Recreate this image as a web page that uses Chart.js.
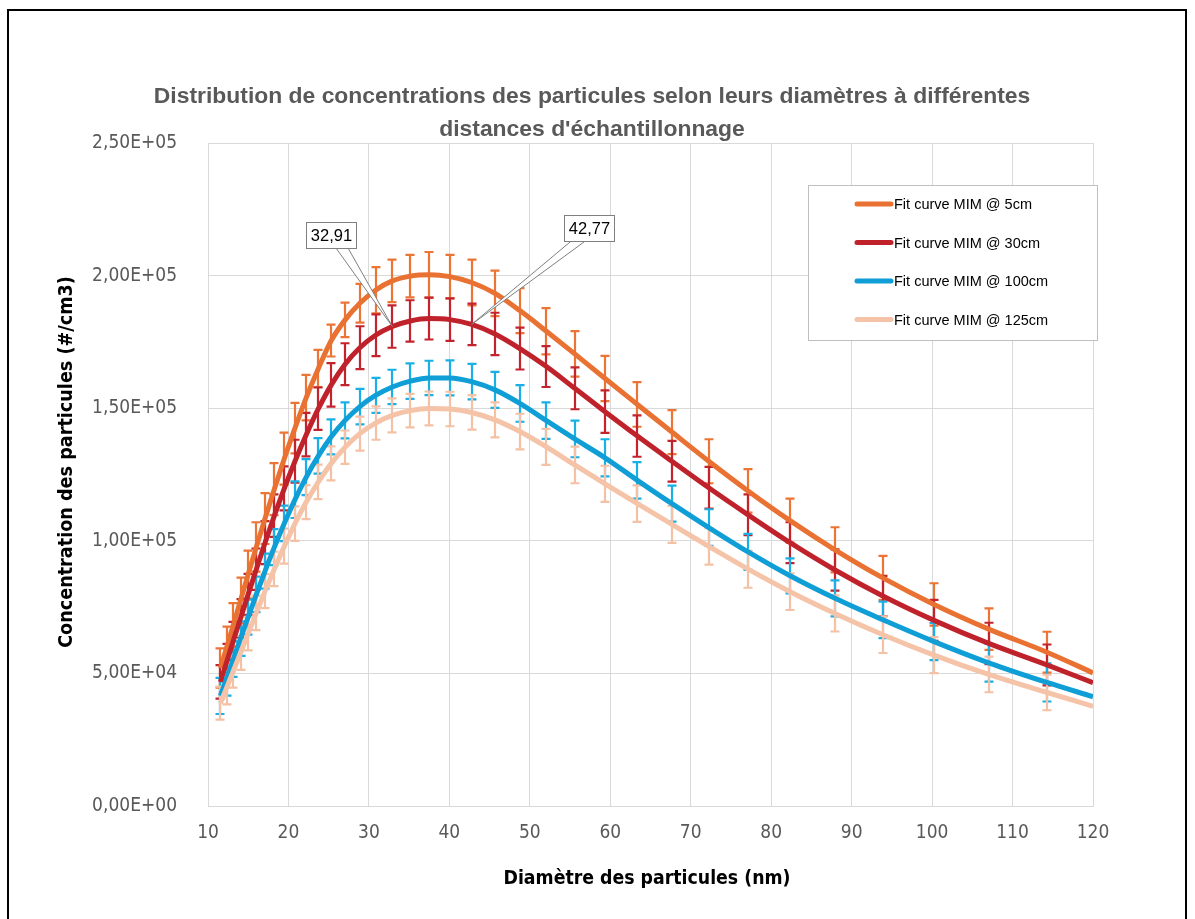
<!DOCTYPE html>
<html>
<head>
<meta charset="utf-8">
<script src="https://cdn.jsdelivr.net/npm/chart.js@4.4.1/dist/chart.umd.min.js"></script>
<style>
  html, body { margin: 0; padding: 0; background: #fff; }
  #myChart { display: block; }
</style>
</head>
<body>
<canvas id="myChart" width="1195" height="919"></canvas>
<script>
// diamètres des canaux (nm), communs aux 4 séries
const diametres = [11.54, 12.32, 13.15, 14.04, 14.99, 16.01, 17.09, 18.25, 19.49, 20.81,
    22.21, 23.72, 25.32, 27.04, 28.87, 30.82, 32.91, 35.14, 37.52, 40.06,
    42.77, 45.67, 48.76, 52.06, 55.58, 59.35, 63.37, 67.66, 72.24, 77.13,
    82.35, 87.93, 93.88, 100.24, 107.03, 114.27]
const diametreFin = 120

// courbes de fit (#/cm3), dernier point = diametreFin
const fit5cm = [52000, 59800, 68300, 77500, 87300, 97700, 108400, 119500, 131000, 142500,
    154000, 165000, 175500, 183300, 189600, 194500, 198000, 199800, 200300, 199600,
    197400, 193300, 186800, 179000, 170500, 161200, 151400, 141000, 130000, 118800,
    107600, 96600, 86000, 76000, 66700, 58000, 50200]
const fit30cm = [46800, 54300, 62300, 70800, 79800, 89300, 99300, 109500, 119800, 130000,
    140000, 149800, 158800, 166600, 172800, 177500, 180800, 182900, 183800, 183400,
    181600, 178000, 172500, 165700, 157500, 148700, 139500, 130000, 120000, 109800,
    99300, 89000, 79200, 70000, 61300, 53200, 46500]
const fit100cm = [41500, 48200, 55400, 63100, 71200, 79800, 88600, 97600, 106600, 115500,
    124000, 132000, 139200, 145400, 150600, 154800, 158000, 160200, 161400, 161400,
    160000, 156900, 151800, 145300, 138400, 131300, 122800, 114000, 105000, 95800,
    86800, 78300, 70200, 62000, 54000, 46600, 41200]
const fit125cm = [38800, 44600, 50900, 57700, 65000, 72800, 81000, 89400, 98000, 106500,
    114600, 122200, 129200, 135300, 140400, 144400, 147300, 149100, 149900, 149700,
    148400, 145600, 141200, 135400, 128600, 121500, 114000, 106200, 97900, 89300,
    80800, 72600, 64600, 56900, 49600, 42800, 37600]

// demi-largeur des barres d'erreur (#/cm3)
const err5cm = [7400, 7800, 8200, 8600, 9000, 9300, 9600, 9800, 9800, 9500,
    8600, 7000, 6000, 6500, 7300, 8700, 8000, 8000, 8600, 8200,
    8600, 8600, 8500, 8700, 8600, 8500, 8400, 8300, 8300, 8200,
    8300, 8500, 8300, 8000, 7800, 7700]
const err30cm = [6300, 6800, 7100, 7200, 7700, 7800, 8100, 8000, 8300, 8100,
    8200, 8000, 8200, 7900, 8100, 7900, 8000, 7800, 7900, 8000,
    7800, 8000, 7900, 7700, 7900, 8000, 7800, 7700, 7900, 7700,
    7700, 7800, 7600, 7700, 7800, 7700]
const err100cm = [6800, 6600, 6700, 6500, 6600, 6700, 6600, 6800, 6700, 6900,
    6800, 6700, 6600, 6800, 6700, 6600, 6500, 6700, 6500, 6600,
    6700, 6800, 6900, 6900, 6900, 7000, 6900, 6800, 6900, 6800,
    6600, 6800, 6900, 7000, 7100, 7200]
const err125cm = [6200, 6300, 6300, 6400, 6300, 6500, 6400, 6500, 6600, 6500,
    6400, 6500, 6400, 6300, 6400, 6300, 6400, 6300, 6400, 6500,
    6500, 6600, 6700, 6800, 6900, 6800, 6900, 7000, 6900, 7000,
    6900, 6800, 6900, 6800, 6700, 6700]

const series = ["Fit curve MIM @ 5cm", "Fit curve MIM @ 30cm", "Fit curve MIM @ 100cm", "Fit curve MIM @ 125cm"]
const colors = ["#E97132", "#C0222B", "#0F9ED5", "#F5C3A7"]
const barColors = ["#EC7434", "#C3232D", "#19B0E6", "#F5C1A4"]

// étiquettes (série 30cm)
const labelDiam = [32.91, 42.77]
const labelText = ["32,91", "42,77"]

const titleLines = ["Distribution de concentrations des particules selon leurs diamètres à différentes",
    "distances d'échantillonnage"]
const xTitle = "Diamètre des particules (nm)"
const yTitle = "Concentration des particules (#/cm3)"

const NARROW = '"Liberation Sans Narrow", "DejaVu Sans Condensed", sans-serif'
const REG = '"Liberation Sans", Arial, sans-serif'

function sci(v) {
    if (v === 0) return "0,00E+00";
    let e = Math.floor(Math.log10(v) + 1e-9);
    let m = v / Math.pow(10, e);
    return m.toFixed(2).replace(".", ",") + "E+" + String(e).padStart(2, "0");
}

function toPoints(vals) {
    return diametres.concat([diametreFin]).map((x, i) => ({ x: x, y: vals[i] }));
}

function fitSize(ctx, text, weight, family, target) {
    ctx.font = weight + " 20px " + family;
    return 20 * target / ctx.measureText(text).width;
}

const fits = [fit5cm, fit30cm, fit100cm, fit125cm]
const errs = [err5cm, err30cm, err100cm, err125cm]

const errorBars = {
    id: "errorBars",
    beforeDatasetsDraw(chart) {
        const { ctx, chartArea: a, scales: { x, y } } = chart;
        ctx.save();
        ctx.beginPath();
        ctx.rect(a.left, a.top, a.right - a.left, a.bottom - a.top);
        ctx.clip();
        ctx.lineWidth = 2.2;
        chart.data.datasets.forEach((ds, i) => {
            ctx.strokeStyle = barColors[i];
            errs[i].forEach((e, j) => {
                const px = Math.round(x.getPixelForValue(diametres[j]));
                const t = y.getPixelForValue(fits[i][j] + e);
                const b = y.getPixelForValue(fits[i][j] - e);
                ctx.beginPath();
                ctx.moveTo(px, t); ctx.lineTo(px, b);
                ctx.moveTo(px - 4.5, t); ctx.lineTo(px + 4.5, t);
                ctx.moveTo(px - 4.5, b); ctx.lineTo(px + 4.5, b);
                ctx.stroke();
            });
        });
        ctx.restore();
    }
};

const decor = {
    id: "decor",
    beforeDraw(chart) {
        const ctx = chart.ctx;
        ctx.save();
        ctx.fillStyle = "#fff";
        ctx.fillRect(0, 0, chart.width, chart.height);
        ctx.strokeStyle = "#000";
        ctx.lineWidth = 2;
        ctx.beginPath();
        ctx.moveTo(8, 930); ctx.lineTo(8, 10); ctx.lineTo(1186, 10); ctx.lineTo(1186, 930);
        ctx.stroke();
        ctx.restore();
    },
    afterDraw(chart) {
        const { ctx, chartArea: a, scales: { x, y } } = chart;
        ctx.save();
        // titre
        ctx.fillStyle = "#595959";
        ctx.textAlign = "center";
        ctx.textBaseline = "middle";
        let ts = fitSize(ctx, titleLines[0], "bold", REG, 875);
        ctx.font = "bold " + ts.toFixed(1) + "px " + REG;
        ctx.fillText(titleLines[0], 592, 97);
        ctx.fillText(titleLines[1], 592, 130);

        // titres des axes
        ctx.fillStyle = "#000";
        let xs = fitSize(ctx, xTitle, "bold", NARROW, 287);
        ctx.font = "bold " + xs.toFixed(1) + "px " + NARROW;
        ctx.fillText(xTitle, 647, 879);
        let ys = fitSize(ctx, yTitle, "bold", NARROW, 371);
        ctx.font = "bold " + ys.toFixed(1) + "px " + NARROW;
        ctx.translate(67, 462);
        ctx.rotate(-Math.PI / 2);
        ctx.fillText(yTitle, 0, 0);
        ctx.setTransform(1, 0, 0, 1, 0, 0);

        // légende
        ctx.fillStyle = "#fff";
        ctx.fillRect(808, 185, 289, 155);
        ctx.strokeStyle = "#BFBFBF";
        ctx.lineWidth = 1;
        ctx.strokeRect(808.5, 185.5, 289, 155);
        ctx.font = "14.5px " + REG;
        ctx.textAlign = "left";
        series.forEach((s, i) => {
            const ly = 204 + i * 38.5;
            ctx.strokeStyle = colors[i];
            ctx.lineWidth = 5;
            ctx.lineCap = "round";
            ctx.beginPath();
            ctx.moveTo(857, ly); ctx.lineTo(891, ly);
            ctx.stroke();
            ctx.fillStyle = "#000";
            ctx.fillText(s, 894, ly + 1);
        });

        // étiquettes de données (série 30cm)
        const boxes = [
            { dx: -86, dy: -105, w: 50, h: 26, b0: -56, b1: -44 },
            { dx: 92, dy: -109, w: 50, h: 26, b0: 99, b1: 113 }
        ];
        labelDiam.forEach((d, k) => {
            const j = diametres.indexOf(d);
            const px = x.getPixelForValue(d);
            const py = y.getPixelForValue(fit30cm[j]);
            const bx = boxes[k];
            const left = Math.round(px + bx.dx) + 0.5, top = Math.round(py + bx.dy) + 0.5;
            ctx.lineCap = "butt";
            ctx.lineWidth = 1;
            ctx.strokeStyle = "#7F7F7F";
            ctx.fillStyle = "#fff";
            ctx.beginPath();
            ctx.moveTo(px + bx.b0, top + bx.h);
            ctx.lineTo(px, py);
            ctx.lineTo(px + bx.b1, top + bx.h);
            ctx.closePath();
            ctx.fill();
            ctx.stroke();
            ctx.fillRect(left, top, bx.w, bx.h);
            ctx.strokeRect(left, top, bx.w, bx.h);
            ctx.fillStyle = "#000";
            ctx.font = "16.5px " + REG;
            ctx.textAlign = "center";
            ctx.fillText(labelText[k], left + bx.w / 2, top + bx.h / 2 + 1);
        });
        ctx.restore();
    }
};

const datasets = series.map((s, i) => ({
    label: s,
    data: toPoints(fits[i]),
    borderColor: colors[i],
    backgroundColor: colors[i],
    borderWidth: 5,
    pointRadius: 0,
    fill: false,
    cubicInterpolationMode: "monotone",
    order: 3 - i
}));

var ctx = document.getElementById("myChart").getContext("2d");
var myChart = new Chart(ctx, {
    type: "line",
    data: { datasets: datasets },
    options: {
        responsive: false,
        animation: false,
        devicePixelRatio: 1,
        layout: { padding: { left: 10, top: 143, right: 102, bottom: 0 } },
        plugins: { legend: { display: false }, tooltip: { enabled: false }, title: { display: false } },
        scales: {
            x: {
                type: "linear",
                min: 10, max: 120,
                afterFit: (s) => { s.height = 113; },
                ticks: { stepSize: 10, padding: 16, color: "#595959", font: { family: NARROW, size: 19 } },
                grid: { color: "#D9D9D9", lineWidth: 1, drawTicks: false },
                border: { color: "#D9D9D9" }
            },
            y: {
                min: 0, max: 250000,
                afterFit: (s) => { s.width = 198; },
                ticks: { stepSize: 50000, padding: 31, color: "#595959", font: { family: NARROW, size: 19 },
                    callback: (v) => sci(v) },
                grid: { color: "#D9D9D9", lineWidth: 1, drawTicks: false },
                border: { display: false }
            }
        }
    },
    plugins: [decor, errorBars]
});
</script>
</body>
</html>
